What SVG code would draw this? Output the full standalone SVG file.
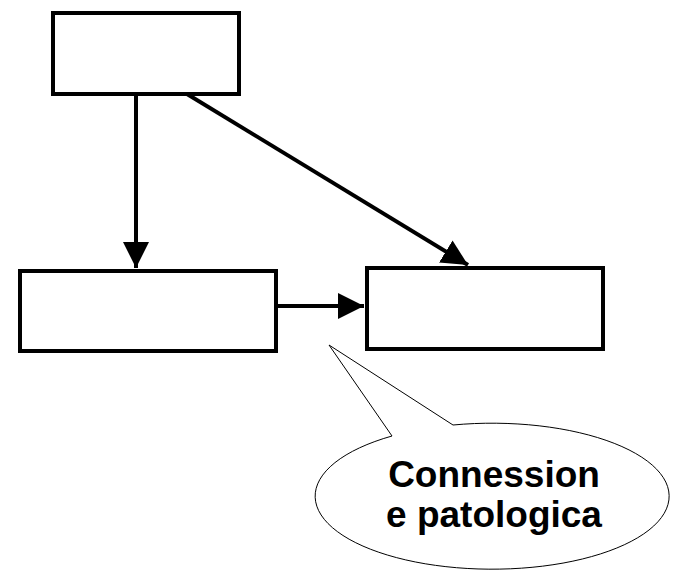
<svg xmlns="http://www.w3.org/2000/svg" width="675" height="574" viewBox="0 0 675 574">
  <style>
    .box { fill: #ffffff; stroke: #000000; stroke-width: 4; }
    .link { stroke: #000000; stroke-width: 4; fill: none; }
    .callout { fill: #ffffff; stroke: #000000; stroke-width: 1; }
    .label { font-family: "Liberation Sans", Arial, sans-serif; font-weight: bold; font-size: 37px; fill: #000000; text-anchor: middle; }
  </style>
  <defs>
    <marker id="arrow" viewBox="0 0 26 26" refX="26" refY="13" markerWidth="26" markerHeight="26" markerUnits="userSpaceOnUse" orient="auto">
      <path d="M0,0 L26,13 L0,26 Z" fill="#000000"/>
    </marker>
  </defs>

  <rect width="675" height="574" fill="#ffffff"/>

  <g id="node-top">
    <rect class="box" x="53" y="13" width="186" height="81"/>
  </g>
  <g id="node-left">
    <rect class="box" x="20" y="271" width="256" height="80"/>
  </g>
  <g id="node-right">
    <rect class="box" x="367" y="268" width="236" height="81"/>
  </g>

  <g id="connectors">
    <line class="link" x1="136" y1="94" x2="136" y2="268" marker-end="url(#arrow)"/>
    <line class="link" x1="187" y1="94" x2="468" y2="265" marker-end="url(#arrow)"/>
    <line class="link" x1="274" y1="306" x2="364" y2="306" marker-end="url(#arrow)"/>
  </g>

  <g id="callout">
    <!-- oval bubble centred at (493,496), rx 177, ry 73, with a pointer towards the right node -->
    <path class="callout" d="M392,436 L329,345 L453,425 A177,73 0 1 1 392,436 Z"/>
    <text class="label" x="494" y="487">Connession</text>
    <text class="label" x="494" y="527">e patologica</text>
  </g>
</svg>
